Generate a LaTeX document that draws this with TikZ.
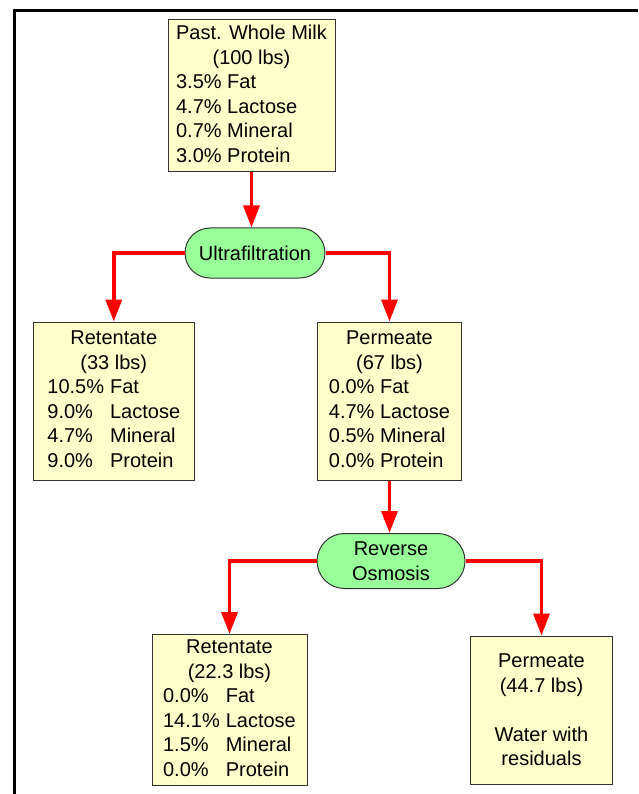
\documentclass[tikz,border=0pt]{standalone}
\usepackage{fontspec}
\setmainfont{Liberation Sans}
\usetikzlibrary{arrows.meta,shapes.misc}
\definecolor{boxfill}{HTML}{FFFFCC}
\definecolor{pillfill}{HTML}{99FF99}
\definecolor{edgegray}{HTML}{333333}
\begin{document}
\begin{tikzpicture}[x=1pt,y=-1pt,
  font=\fontsize{20}{24.5}\selectfont,
  databox/.style={draw=edgegray, fill=boxfill, line width=1pt, inner sep=0pt, align=center},
  procnode/.style={rounded rectangle, draw=edgegray, fill=pillfill, line width=1pt, inner sep=0pt, align=center},
  conn/.style={draw=red, line width=3.5pt, line join=miter, -{Triangle[length=22pt,width=16pt]}},
  frameline/.style={draw=black, line width=3pt, line join=miter}]
\useasboundingbox (0,0) rectangle (638,794);
\draw[frameline] (14.8,794) -- (14.8,10.7) -- (638,10.7);

\node[databox, minimum width=167pt, minimum height=152pt] (milk) at (251.5,96)
  {\begin{tabular}{@{}l@{}}\multicolumn{1}{@{}c@{}}{Past. Whole Milk}\\ \multicolumn{1}{@{}c@{}}{(100 lbs)}\\ 3.5\% Fat\\ 4.7\% Lactose\\ 0.7\% Mineral\\ 3.0\% Protein\end{tabular}};

\node[procnode, minimum width=140pt, minimum height=50pt] (uf) at (255,253) {Ultrafiltration};

\node[databox, minimum width=161pt, minimum height=158pt] (ret1) at (113.8,401)
  {\begin{tabular}{@{}l@{\hspace{6pt}}l@{}}\multicolumn{2}{@{}c@{}}{Retentate}\\ \multicolumn{2}{@{}c@{}}{(33 lbs)}\\ 10.5\% & Fat\\ 9.0\% & Lactose\\ 4.7\% & Mineral\\ 9.0\% & Protein\end{tabular}};

\node[databox, minimum width=144pt, minimum height=158pt] (perm1) at (389.5,401)
  {\begin{tabular}{@{}l@{}}\multicolumn{1}{@{}c@{}}{Permeate}\\ \multicolumn{1}{@{}c@{}}{(67 lbs)}\\ 0.0\% Fat\\ 4.7\% Lactose\\ 0.5\% Mineral\\ 0.0\% Protein\end{tabular}};

\node[procnode, minimum width=148pt, minimum height=55pt] (ro) at (391,561) {Reverse\\Osmosis};

\node[databox, minimum width=155pt, minimum height=151pt] (ret2) at (229.5,710)
  {\begin{tabular}{@{}l@{\hspace{6pt}}l@{}}\multicolumn{2}{@{}c@{}}{Retentate}\\ \multicolumn{2}{@{}c@{}}{(22.3 lbs)}\\ 0.0\% & Fat\\ 14.1\% & Lactose\\ 1.5\% & Mineral\\ 0.0\% & Protein\end{tabular}};

\node[databox, minimum width=142pt, minimum height=148pt] (perm2) at (541.5,710)
  {Permeate\\(44.7 lbs)\\[24.5pt]Water with\\residuals};

\draw[conn] (milk.south) -- (milk.south |- uf.north);
\draw[conn] (uf.west) -| (ret1.north);
\draw[conn] (uf.east) -| (perm1.north);
\draw[conn] (perm1.south) -- (perm1.south |- ro.north);
\draw[conn] (ro.west) -| (ret2.north);
\draw[conn] (ro.east) -| (perm2.north);
\end{tikzpicture}
\end{document}
